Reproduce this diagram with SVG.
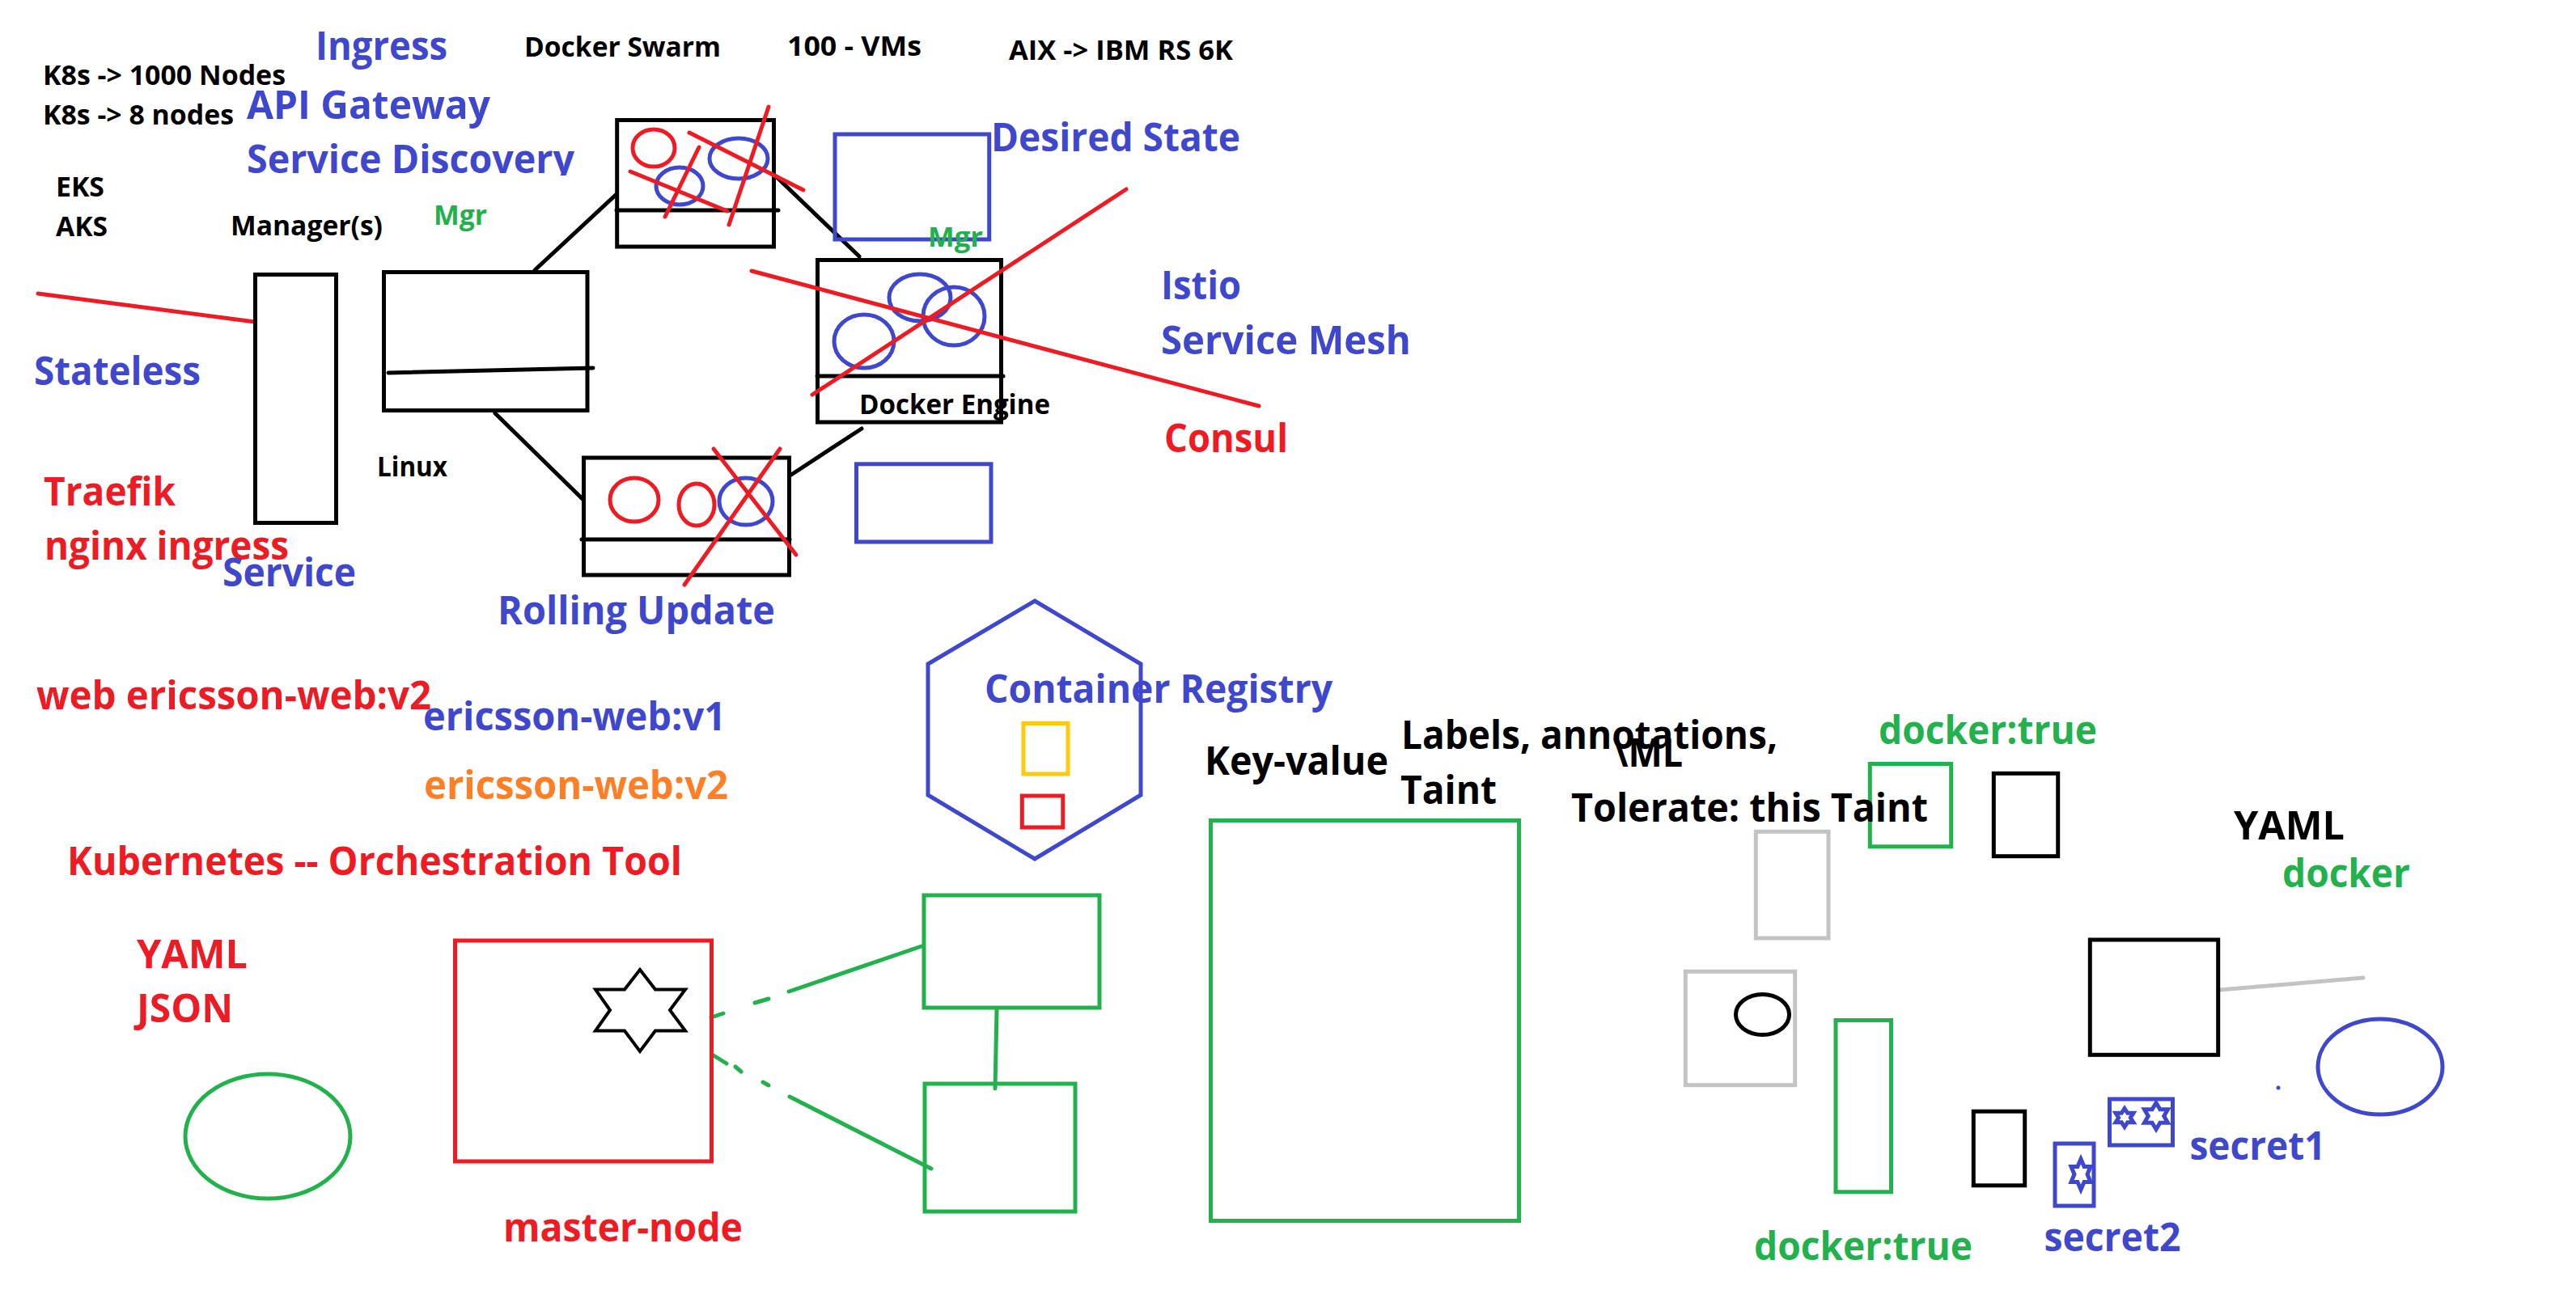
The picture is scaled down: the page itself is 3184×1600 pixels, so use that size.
<svg xmlns="http://www.w3.org/2000/svg" width="3184" height="1600" viewBox="0 0 3184 1600">
<style>
text{font-family:"Open Sans","Noto Sans","Liberation Sans",sans-serif;font-weight:700;white-space:pre}
.s{font-size:34px}.l{font-size:49px}
.tk{fill:#000}.tb{fill:#3f48cc}.tr{fill:#ed1c24}.tg{fill:#22b14c}.to{fill:#ff7f27}
rect,ellipse,polygon,line{fill:none;stroke-width:5}
.k{stroke:#000}.b{stroke:#3f48cc}.r{stroke:#ed1c24}.g{stroke:#22b14c}.y{stroke:#ffc90e}.h{stroke:#c3c3c3}
line{stroke-linecap:round}
.star{vector-effect:non-scaling-stroke}
</style>
<defs>
<clipPath id="cutSD"><rect x="290" y="160" width="440" height="57"/></clipPath>
<polygon id="star" class="star" points="0,-1 -.34,-.5 -1,-.5 -.67,0 -1,.5 -.34,.5 0,1 .34,.5 1,.5 .67,0 1,-.5 .34,-.5"/>
</defs>
<rect x="0" y="0" width="3184" height="1600" style="fill:#fff;stroke:none"/>

<g id="connectors">
<line class="r" x1="47" y1="363" x2="315" y2="398"/>
<line class="k" x1="661" y1="334" x2="761" y2="241"/>
<line class="k" x1="612" y1="511" x2="720" y2="617"/>
<line class="k" x1="959" y1="218" x2="1062" y2="317"/>
<line class="k" x1="1065" y1="530" x2="978" y2="587"/>
<line class="g" x1="1139" y1="1170" x2="975" y2="1226"/>
<line class="g" x1="950" y1="1235" x2="933" y2="1240"/>
<line class="g" x1="894" y1="1253" x2="879" y2="1258"/>
<line class="g" x1="1151" y1="1445" x2="976" y2="1356"/>
<line class="g" x1="950" y1="1342" x2="943" y2="1338"/>
<line class="g" x1="916" y1="1325" x2="909" y2="1319"/>
<line class="g" x1="898" y1="1315" x2="882" y2="1305"/>
<line class="g" x1="1232" y1="1248" x2="1230" y2="1346"/>
<line class="h" x1="2744" y1="1224" x2="2921" y2="1209"/>
</g>

<g id="service"><rect class="k" x="315.5" y="339.5" width="100" height="307"/></g>
<g id="manager"><rect class="k" x="474.5" y="336.5" width="251.5" height="171"/><line class="k" x1="480" y1="461" x2="733" y2="455"/></g>

<g id="worker-top">
<rect class="k" x="762.7" y="148.5" width="193.8" height="156.5"/>
<line class="k" x1="762" y1="260" x2="962" y2="260"/>
<ellipse class="r" cx="808" cy="183" rx="26" ry="23"/>
<ellipse class="b" cx="840" cy="230" rx="29" ry="23"/>
<ellipse class="b" cx="913" cy="196" rx="36" ry="25"/>
<line class="r" x1="852" y1="164" x2="993" y2="235"/>
<line class="r" x1="950" y1="132" x2="901" y2="278"/>
<line class="r" x1="864" y1="182" x2="822" y2="268"/>
<line class="r" x1="779" y1="212" x2="899" y2="261"/>
</g>

<g id="desired-box"><rect class="b" x="1032" y="166" width="190.7" height="130"/></g>

<g id="worker-right">
<rect class="k" x="1010.5" y="321.5" width="227" height="200.5"/>
<line class="k" x1="1010" y1="465" x2="1240" y2="465"/>
<ellipse class="b" cx="1137" cy="368" rx="38" ry="29"/>
<ellipse class="b" cx="1179" cy="391" rx="38" ry="36"/>
<ellipse class="b" cx="1068" cy="422" rx="37" ry="33"/>
<line class="r" x1="929" y1="335" x2="1556" y2="502"/>
<line class="r" x1="1004" y1="488" x2="1392" y2="234"/>
</g>

<g id="blue-box"><rect class="b" x="1058.5" y="573.8" width="166.5" height="96.2"/></g>

<g id="worker-bottom">
<rect class="k" x="721.5" y="566" width="254" height="145"/>
<line class="k" x1="719" y1="667" x2="976" y2="667"/>
<ellipse class="r" cx="784" cy="618" rx="30" ry="27"/>
<ellipse class="r" cx="861" cy="624" rx="22" ry="26"/>
<ellipse class="b" cx="922" cy="620" rx="33" ry="29"/>
<line class="r" x1="882" y1="555" x2="984" y2="686"/>
<line class="r" x1="964" y1="555" x2="846" y2="723"/>
</g>

<g id="registry">
<polygon class="b" points="1279,743 1410,821 1410,983 1279,1062 1147,983 1147,821"/>
<rect class="y" x="1265" y="894.5" width="55" height="62.5"/>
<rect class="r" x="1263.3" y="984" width="50.5" height="39"/>
</g>

<g id="master-node">
<rect class="r" x="562.5" y="1163" width="317" height="273"/>
<polygon class="k" style="stroke-width:4" points="791,1199 772,1223.5 736,1223.5 754,1249 736,1274.5 772,1274.5 791,1300 810,1274.5 847,1274.5 828,1249 847,1223.5 810,1223.5"/>
</g>

<g id="green-ellipse"><ellipse class="g" cx="331" cy="1405" rx="102" ry="77"/></g>
<g id="green-box-1"><rect class="g" x="1142" y="1107" width="217" height="139"/></g>
<g id="green-box-2"><rect class="g" x="1143" y="1340" width="186" height="158"/></g>
<g id="key-value-box"><rect class="g" x="1496.5" y="1014.5" width="381" height="495"/></g>

<g id="gray-box-1"><rect class="h" x="2170.3" y="1028.3" width="89.7" height="131.7"/></g>
<g id="gray-box-2"><rect class="h" x="2083.3" y="1201.3" width="135.4" height="140.4"/><ellipse class="k" cx="2178.5" cy="1254.5" rx="33" ry="25"/></g>
<g id="green-box-3"><rect class="g" x="2311.3" y="944.5" width="100.4" height="102.3"/></g>
<g id="green-box-4"><rect class="g" x="2269" y="1261.5" width="68.5" height="212.3"/></g>
<g id="black-box-1"><rect class="k" x="2464.3" y="956.3" width="79.4" height="102.4"/></g>
<g id="black-box-2"><rect class="k" x="2583.3" y="1162" width="158.4" height="142.3"/></g>
<g id="black-box-3"><rect class="k" x="2439.3" y="1374.2" width="63.4" height="91.6"/></g>
<g id="blue-ellipse"><ellipse class="b" cx="2942" cy="1319" rx="77" ry="59"/><circle cx="2816" cy="1345" r="2.5" fill="#3f48cc"/></g>
<g id="secret1-box">
<rect class="b" x="2607.5" y="1359" width="78" height="57"/>
<use href="#star" class="b" transform="translate(2626 1382) scale(11 11.5)" style="stroke-width:3.5"/>
<use href="#star" class="b" transform="translate(2665 1380) scale(14.5 16.5)" style="stroke-width:3.5"/>
</g>
<g id="secret2-box">
<rect class="b" x="2540" y="1414" width="48" height="77"/>
<use href="#star" class="b" transform="translate(2572 1452) scale(12 19)" style="stroke-width:3.5"/>
</g>

<g id="labels" transform="translate(-1 0)">
<text class="s tk" x="54" y="105" textLength="300" lengthAdjust="spacingAndGlyphs">K8s -&gt; 1000 Nodes</text>
<text class="s tk" x="54" y="154" textLength="236" lengthAdjust="spacingAndGlyphs">K8s -&gt; 8 nodes</text>
<text class="l tb" x="391" y="74" textLength="163" lengthAdjust="spacingAndGlyphs">Ingress</text>
<text class="s tk" x="649" y="70" textLength="243" lengthAdjust="spacingAndGlyphs">Docker Swarm</text>
<text class="s tk" x="974" y="69" textLength="166" lengthAdjust="spacingAndGlyphs">100 - VMs</text>
<text class="s tk" x="1248" y="74" textLength="277" lengthAdjust="spacingAndGlyphs">AIX -&gt; IBM RS 6K</text>
<text class="l tb" x="306" y="147" textLength="301" lengthAdjust="spacingAndGlyphs">API Gateway</text>
<text class="l tb" x="306" y="214" textLength="405" lengthAdjust="spacingAndGlyphs" clip-path="url(#cutSD)">Service Discovery</text>
<text class="l tb" x="1226" y="187" textLength="308" lengthAdjust="spacingAndGlyphs">Desired State</text>
<text class="s tk" x="70" y="243" textLength="60" lengthAdjust="spacingAndGlyphs">EKS</text>
<text class="s tk" x="70" y="292" textLength="64" lengthAdjust="spacingAndGlyphs">AKS</text>
<text class="s tk" x="286" y="291" textLength="188" lengthAdjust="spacingAndGlyphs">Manager(s)</text>
<text class="s tg" x="537" y="278" textLength="66" lengthAdjust="spacingAndGlyphs">Mgr</text>
<text class="s tg" x="1148" y="305" textLength="68" lengthAdjust="spacingAndGlyphs">Mgr</text>
<text class="l tb" x="43" y="476" textLength="206" lengthAdjust="spacingAndGlyphs">Stateless</text>
<text class="s tk" x="1063" y="512" textLength="236" lengthAdjust="spacingAndGlyphs">Docker Engine</text>
<text class="l tb" x="1436" y="370" textLength="99" lengthAdjust="spacingAndGlyphs">Istio</text>
<text class="l tb" x="1436" y="438" textLength="309" lengthAdjust="spacingAndGlyphs">Service Mesh</text>
<text class="l tr" x="1440" y="559" textLength="153" lengthAdjust="spacingAndGlyphs">Consul</text>
<text class="s tk" x="467" y="589" textLength="87" lengthAdjust="spacingAndGlyphs">Linux</text>
<text class="l tr" x="55" y="625" textLength="163" lengthAdjust="spacingAndGlyphs">Traefik</text>
<text class="l tr" x="56" y="692" textLength="302" lengthAdjust="spacingAndGlyphs">nginx ingress</text>
<text class="l tb" x="276" y="725" textLength="165" lengthAdjust="spacingAndGlyphs">Service</text>
<text class="l tb" x="616" y="772" textLength="343" lengthAdjust="spacingAndGlyphs">Rolling Update</text>
<text class="l tr" x="46" y="877" textLength="488" lengthAdjust="spacingAndGlyphs">web ericsson-web:v2</text>
<text class="l tb" x="524" y="903" textLength="374" lengthAdjust="spacingAndGlyphs">ericsson-web:v1</text>
<text class="l to" x="525" y="988" textLength="376" lengthAdjust="spacingAndGlyphs">ericsson-web:v2</text>
<text class="l tb" x="1218" y="869" textLength="430" lengthAdjust="spacingAndGlyphs">Container Registry</text>
<text class="l tr" x="84" y="1082" textLength="760" lengthAdjust="spacingAndGlyphs">Kubernetes -- Orchestration Tool</text>
<text class="l tr" x="170" y="1197" textLength="137" lengthAdjust="spacingAndGlyphs">YAML</text>
<text class="l tr" x="170" y="1264" textLength="119" lengthAdjust="spacingAndGlyphs">JSON</text>
<text class="l tr" x="623" y="1535" textLength="296" lengthAdjust="spacingAndGlyphs">master-node</text>
<text class="l tk" x="1490" y="958" textLength="227" lengthAdjust="spacingAndGlyphs">Key-value</text>
<text class="l tk" x="1733" y="926" textLength="465" lengthAdjust="spacingAndGlyphs">Labels, annotations,</text>
<text class="l tk" x="1732" y="994" textLength="119" lengthAdjust="spacingAndGlyphs">Taint</text>
<text class="l tk" x="1995" y="948" textLength="86" lengthAdjust="spacingAndGlyphs">\ML</text>
<text class="l tk" x="1943" y="1016" textLength="441" lengthAdjust="spacingAndGlyphs">Tolerate: this Taint</text>
<text class="l tg" x="2323" y="920" textLength="270" lengthAdjust="spacingAndGlyphs">docker:true</text>
<text class="l tg" x="2169" y="1558" textLength="270" lengthAdjust="spacingAndGlyphs">docker:true</text>
<text class="l tk" x="2762" y="1038" textLength="137" lengthAdjust="spacingAndGlyphs">YAML</text>
<text class="l tg" x="2822" y="1097" textLength="158" lengthAdjust="spacingAndGlyphs">docker</text>
<text class="l tb" x="2707.5" y="1434" textLength="168" lengthAdjust="spacingAndGlyphs">secret1</text>
<text class="l tb" x="2527.5" y="1547" textLength="169" lengthAdjust="spacingAndGlyphs">secret2</text>
</g>
</svg>
